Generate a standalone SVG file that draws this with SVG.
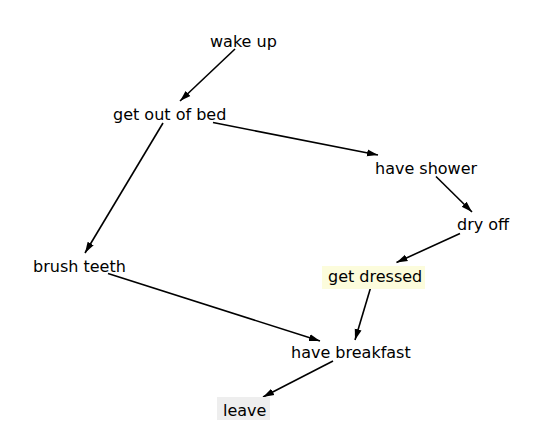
<svg xmlns="http://www.w3.org/2000/svg" width="551" height="440" viewBox="0 0 551 440">
<defs>
<style>
.lbl{font-family:"DejaVu Sans","Verdana",sans-serif;font-size:16px;fill:#000}
.edge{stroke:#000;stroke-width:1.6;fill:none;marker-end:url(#ah)}
</style>
<marker id="ah" markerUnits="userSpaceOnUse" markerWidth="12" markerHeight="10" viewBox="0 0 12 10" refX="11" refY="5" orient="auto">
<path d="M0,1.5 L11,5 L0,8.5 Z" fill="#000"/>
</marker>
</defs>
<rect width="551" height="440" fill="#fff"/>
<g id="connectors">
<line class="edge" x1="235" y1="49" x2="180" y2="101"/>
<line class="edge" x1="213" y1="122.5" x2="378" y2="155"/>
<line class="edge" x1="163" y1="123" x2="85" y2="253"/>
<line class="edge" x1="436" y1="176.5" x2="472" y2="212"/>
<line class="edge" x1="460" y1="233.5" x2="396.5" y2="262.5"/>
<line class="edge" x1="372" y1="283" x2="355" y2="340"/>
<line class="edge" x1="108" y1="273.5" x2="320" y2="341"/>
<line class="edge" x1="333" y1="361" x2="263" y2="397"/>
</g>
<g id="wake-up"><text class="lbl" x="210" y="47">wake up</text></g>
<g id="get-out-of-bed"><text class="lbl" x="113" y="120">get out of bed</text></g>
<g id="have-shower"><text class="lbl" x="375" y="174">have shower</text></g>
<g id="dry-off"><text class="lbl" x="457" y="230">dry off</text></g>
<g id="get-dressed"><rect x="322" y="266" width="103" height="23" fill="#fcfcdc"/><text class="lbl" x="328" y="282">get dressed</text></g>
<g id="brush-teeth"><text class="lbl" x="33" y="272">brush teeth</text></g>
<g id="have-breakfast"><text class="lbl" x="291" y="358">have breakfast</text></g>
<g id="leave"><rect x="217" y="397" width="53" height="23" fill="#eeeeee"/><text class="lbl" x="223" y="416">leave</text></g>
</svg>
